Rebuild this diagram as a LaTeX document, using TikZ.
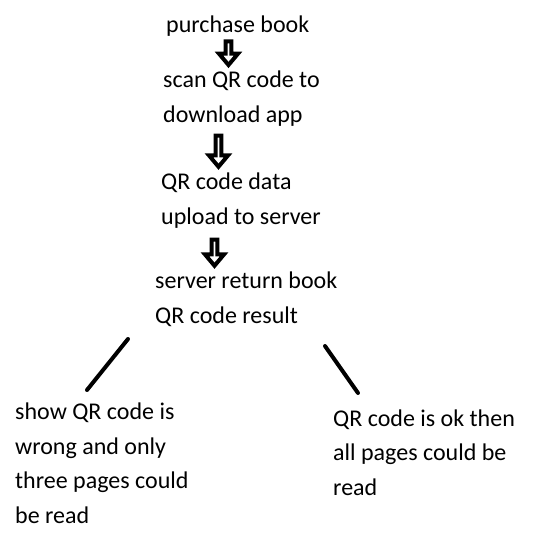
\documentclass[tikz,border=0pt]{standalone}
\usepackage{fontspec}
\setmainfont{Carlito}
\usepackage{tikz}
\usetikzlibrary{shapes.arrows}

\begin{document}
\begin{tikzpicture}[
  x=1pt,y=-1pt,
  every node/.style={font=\fontsize{24}{34.5}\selectfont},
  txt/.style ={anchor=base west,inner sep=0pt,align=left,text=black},
  down/.style={single arrow,draw=black,fill=white,line width=4pt,
               shape border rotate=270,inner sep=0pt,
               minimum width=19pt,single arrow head extend=4.5pt,
               single arrow tip angle=80},
  branch/.style={line width=4pt,line cap=round}
]
\useasboundingbox (0,0) rectangle (537,557);
% base anchor sits on the last line
\node[txt] (buy)    at (166, 32)  {purchase book};
\node[txt] (scan)   at (163,122)  {scan QR code to\\download app};
\node[txt] (upload) at (161,224)  {QR code data\\upload to server};
\node[txt] (result) at (155,323)  {server return book\\QR code result};
\node[txt] (wrong)  at ( 15,523)  {show QR code is\\wrong and only\\three pages could\\be read};
\node[txt] (ok)     at (333,495)  {QR code is ok then\\all pages could be\\read};

\node[down,minimum height=23.5pt] (a1) at (228.5, 51.5) {};
\node[down,minimum height=31pt]   (a2) at (218.5,149.5) {};
\node[down,minimum height=26pt]   (a3) at (214.5,251)   {};

\coordinate (l1) at (128,339);
\coordinate (l2) at ( 87,390);
\coordinate (r1) at (325,346);
\coordinate (r2) at (358,393);
\draw[branch] (l1) -- (l2);
\draw[branch] (r1) -- (r2);
\end{tikzpicture}
\end{document}
